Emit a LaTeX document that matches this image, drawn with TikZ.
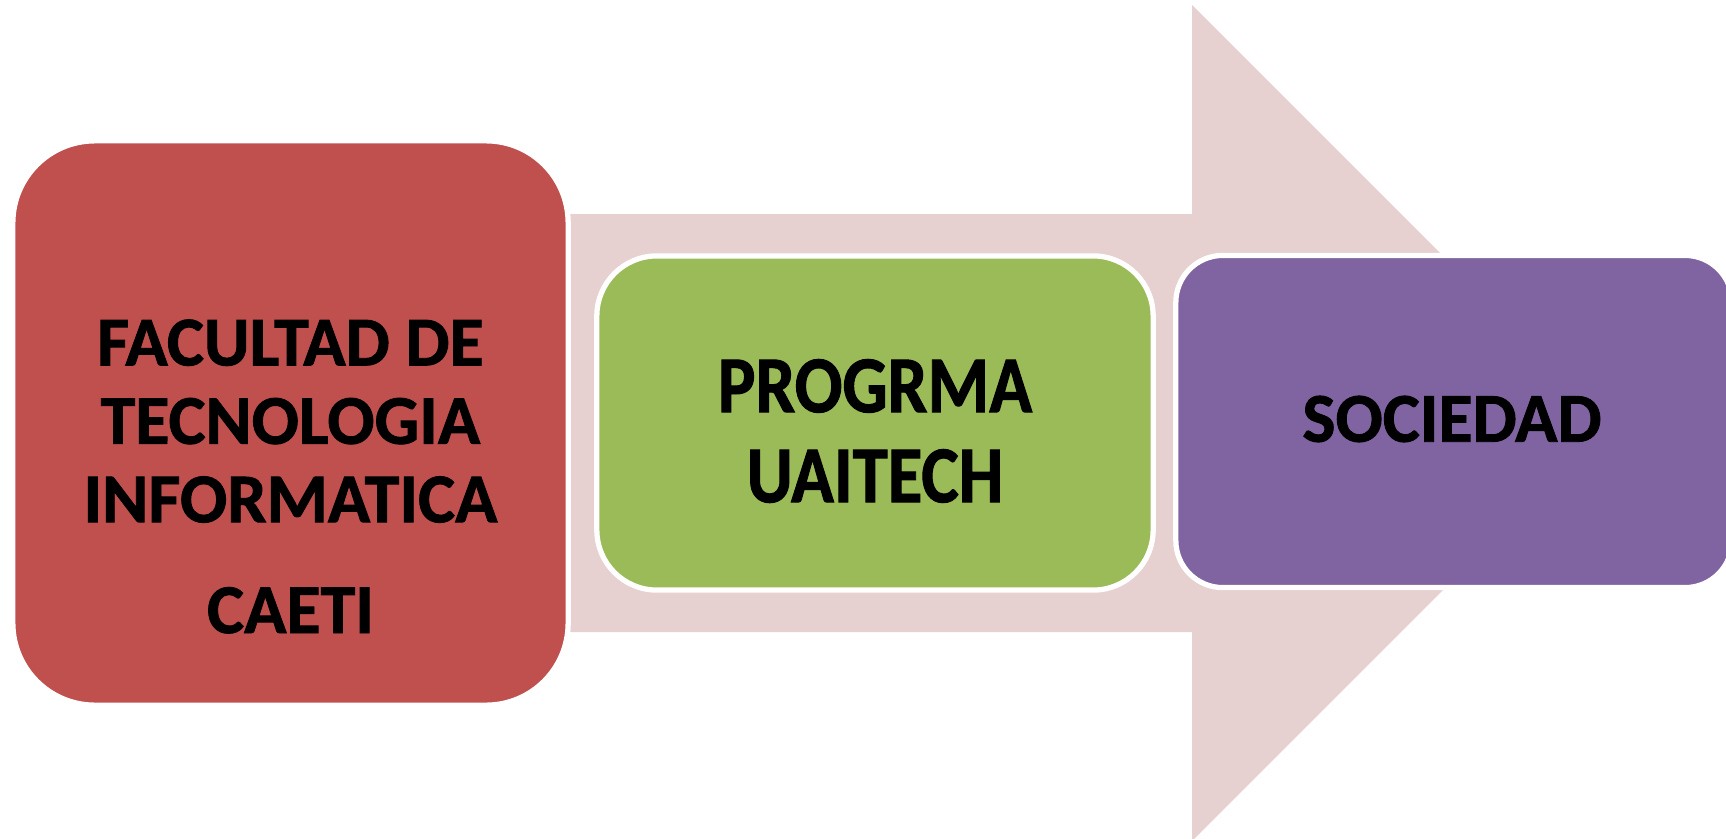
\documentclass[tikz,border=0pt]{standalone}
\usepackage{fontspec}
\setmainfont{Carlito}[BoldFeatures={FakeBold=1.2}]
\newfontfamily\condfont{Carlito}[FakeStretch=0.875,BoldFeatures={FakeBold=1.2}]
\definecolor{rojo}{RGB}{192,80,77}
\definecolor{verde}{RGB}{155,187,89}
\definecolor{morado}{RGB}{128,100,162}
\definecolor{flecha}{RGB}{230,208,208}
\tikzset{caja/.style={draw=white,line width=1.5pt,rectangle,inner sep=0pt},
  texto/.style={inner sep=0pt,align=center}}

\begin{document}
\begin{tikzpicture}[x=0.01cm,y=-0.01cm]
\useasboundingbox (0,0) rectangle (1726,839);
\clip (0,0) rectangle (1726,839);
\fill[flecha] (570,214)--(1192,214)--(1192,5)--(1610,423)--(1192,841)--(1192,632)--(570,632)--cycle;
\node[caja,fill=rojo,rounded corners=0.82cm,minimum width=5.55cm,minimum height=5.64cm] (fac)at(290.5,423){};
\node[caja,fill=verde,rounded corners=0.6cm,minimum width=5.56cm,minimum height=3.34cm] (prog)at(875,423){};
\node[caja,fill=morado,rounded corners=0.47cm,minimum width=5.56cm,minimum height=3.32cm] (soc)at(1454,421.5){};
\node[texto,font=\bfseries\fontsize{19.9}{22.3}\selectfont] (factxt)at(290.5,476.5){FACULTAD DE\\TECNOLOGIA\\INFORMATICA\\[9.2pt]CAETI};
\node[texto,font=\condfont\bfseries\fontsize{23}{25.6}\selectfont] (progtxt)at(875,431){PROGRMA\\UAITECH};
\node[texto,font=\bfseries\fontsize{19.9}{22.3}\selectfont] (soctxt)at(1452,419){SOCIEDAD};
\end{tikzpicture}
\end{document}
